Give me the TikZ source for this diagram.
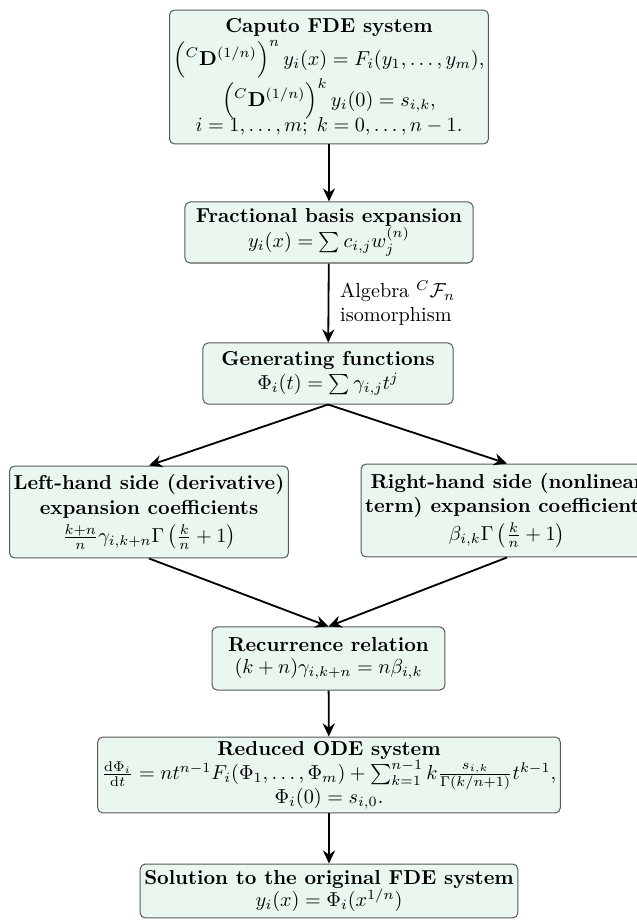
\documentclass[tikz,border=0pt]{standalone}
\usepackage{amsmath,amssymb}
\usetikzlibrary{arrows.meta,positioning}
\definecolor{boxfill}{RGB}{234,247,238}
\definecolor{boxline}{RGB}{90,90,90}
\tikzset{
  flowbox/.style={draw=boxline, fill=boxfill, line width=0.5pt, rounded corners=2.5pt,
    align=center, inner sep=2pt, anchor=center},
  flowarrow/.style={-{Stealth[length=6.5pt,width=6pt]}, line width=0.9pt, black},
}
\begin{document}
\begin{tikzpicture}[x=0.495pt,y=-0.495pt]
\useasboundingbox (0,0) rectangle (637,920);
\clip (0,0) rectangle (637,920);
\fill[white] (0,0) rectangle (637,920);

\node[flowbox, minimum width=154.4pt, minimum height=66.3pt] (caputo) at (329,77)
 {\textbf{Caputo FDE system}\\[1pt]
  $\Bigl({}^{C}\mathbf{D}^{(1/n)}\Bigr)^{n}\, y_i(x) = F_i(y_1,\dots,y_m),$\\[-1pt]
  $\Bigl({}^{C}\mathbf{D}^{(1/n)}\Bigr)^{k}\, y_i(0) = s_{i,k},$\\[-2pt]
  $i=1,\dots,m;\; k=0,\dots,n-1.$};

\node[flowbox, minimum width=142.6pt, minimum height=30.2pt] (basis) at (329,232.5)
 {\textbf{Fractional basis expansion}\\[-1pt]
  $y_i(x)=\sum c_{i,j} w_j^{(n)}$};

\node[flowbox, minimum width=123.8pt, minimum height=30.2pt] (genfun) at (328,373.5)
 {\textbf{Generating functions}\\[0pt]
  $\Phi_i(t)=\sum \gamma_{i,j} t^{j}$};

\node[flowbox, minimum width=134.6pt, minimum height=45.5pt] (lhs) at (149,512)
 {\textbf{Left-hand side (derivative)}\\[0pt]
  \textbf{expansion coefficients}\\[2pt]
  $\frac{k+n}{n}\gamma_{i,k+n}\Gamma\,\bigl(\frac{k}{n}+1\bigr)$};

\node[flowbox, minimum width=134.6pt, minimum height=46pt] (rhs) at (507,510.5)
 {\textbf{Right-hand side (nonlinear}\\[0pt]
  \textbf{term) expansion coefficients}\\[2pt]
  $\beta_{i,k}\Gamma\,\bigl(\frac{k}{n}+1\bigr)$};

\node[flowbox, minimum width=115.3pt, minimum height=31.2pt] (recur) at (328.5,658.5)
 {\textbf{Recurrence relation}\\[-1pt]
  $(k+n)\gamma_{i,k+n}=n\beta_{i,k}$};

\node[flowbox, minimum width=194pt, minimum height=37.6pt] (ode) at (329,775)
 {\textbf{Reduced ODE system}\\[0pt]
  $\frac{\mathrm{d}\Phi_i}{\mathrm{d}t}=nt^{n-1}F_i(\Phi_1,\dots,\Phi_m)+\sum_{k=1}^{n-1} k\frac{s_{i,k}}{\Gamma(k/n+1)}t^{k-1},$\\[-2pt]
  $\Phi_i(0)=s_{i,0}.$};

\node[flowbox, minimum width=164.3pt, minimum height=26.7pt] (sol) at (329,891)
 {\textbf{Solution to the original FDE system}\\[-1pt]
  $y_i(x)=\Phi_i(x^{1/n})$};

\draw[flowarrow] (caputo) -- (basis);
\draw[flowarrow] (basis) -- node[right=2pt, align=left, font=\normalsize] {Algebra ${}^{C}\mathcal{F}_n$\\isomorphism} (genfun);
\draw[flowarrow] (genfun.south) -- (lhs.north);
\draw[flowarrow] (genfun.south) -- (rhs.north);
\draw[flowarrow] (lhs.south) -- (recur.north);
\draw[flowarrow] (rhs.south) -- (recur.north);
\draw[flowarrow] (recur) -- (ode);
\draw[flowarrow] (ode) -- (sol);
\end{tikzpicture}
\end{document}
